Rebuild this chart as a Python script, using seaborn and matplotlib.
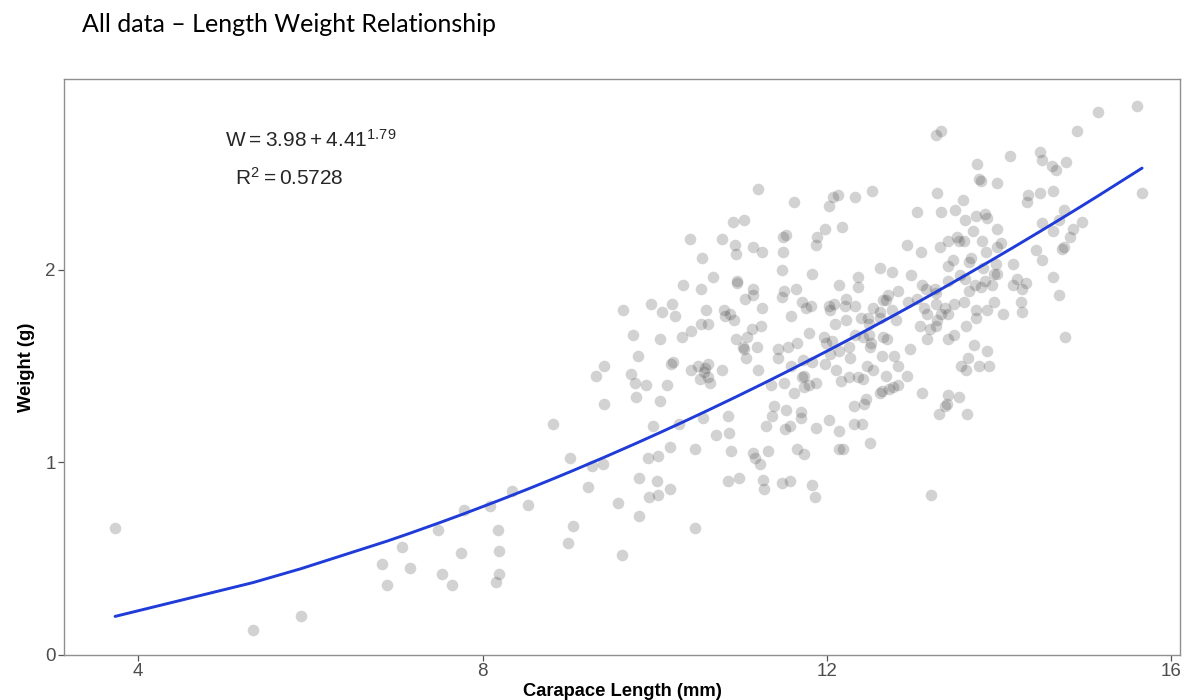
import numpy as np
import pandas as pd
import matplotlib
matplotlib.use("Agg")
import matplotlib.pyplot as plt
import seaborn as sns

# Carapace length (mm) and body weight (g) of each individual
length_mm = [
    3.73, 5.33, 5.89, 6.83, 6.89, 7.06, 7.16, 7.48, 7.53, 7.64, 7.75, 7.78,
    8.09, 8.18, 8.19, 8.19, 8.15,
    8.34, 8.53, 8.82, 8.99, 9.05, 9.02, 9.22, 9.27, 9.40, 9.41, 9.57, 9.62,
    9.82, 9.82, 9.92, 9.93, 9.98, 10.02, 10.04, 10.04, 10.18, 10.18, 10.28,
    10.47, 10.47, 10.56, 10.71, 10.85, 10.86, 10.85, 10.88, 10.98, 11.14,
    11.16, 11.22, 11.26, 11.27, 11.29, 11.32, 11.35, 11.36, 11.38, 11.48,
    11.50, 11.51, 11.52, 11.57, 11.57, 11.62, 11.65, 11.70, 11.70, 11.73,
    11.73, 11.79, 11.83, 11.86, 11.87, 11.87, 9.77, 9.90, 9.78, 10.06, 10.14,
    10.64, 11.71,
    11.20, 11.62, 10.91, 11.04, 10.41, 10.78, 10.93, 10.94, 11.14, 11.24,
    11.49, 11.52, 11.49, 11.88, 11.87, 10.55, 10.68, 10.33, 10.54, 10.95,
    10.96, 11.48, 11.83, 11.50, 11.48, 11.64, 11.14, 11.14, 11.05, 11.71,
    11.76, 11.81, 9.63, 9.95, 10.08, 10.20, 10.24, 10.59, 10.80, 10.81, 10.87,
    10.92, 11.25, 11.58, 10.54, 10.62, 11.23, 11.13, 11.07, 10.94, 11.79,
    9.75, 10.06, 10.32, 10.42, 11.03, 11.04, 11.19, 11.43, 11.55, 11.65,
    11.06, 11.43, 11.72, 11.83, 9.80, 9.41, 9.32, 9.72, 10.19, 10.21, 10.42,
    10.50, 10.58, 10.62, 10.57, 10.78, 11.20, 11.58, 11.73, 10.52, 10.62,
    15.60, 15.15, 14.90, 13.27, 13.32, 14.13, 14.48, 14.50, 14.61, 14.66,
    14.78, 15.66, 13.74, 13.76, 13.79, 13.98, 12.07, 12.13, 12.02, 12.32,
    12.52, 13.28, 14.33, 14.32, 14.47, 14.63, 11.98, 12.18, 13.05, 13.32,
    13.49, 13.58, 13.60, 13.73, 13.83, 13.86, 13.98, 13.70, 13.80, 14.75,
    14.69, 14.50, 14.62, 14.86, 14.96, 14.82, 14.73, 14.75, 14.43, 14.50,
    14.16, 14.62, 14.69, 14.77, 12.93, 13.09, 13.31, 13.40, 13.51, 13.53,
    13.59, 14.02, 13.97, 13.85, 13.67, 13.65, 13.96, 13.46, 13.41, 13.81,
    12.61, 12.75, 12.36, 12.36, 12.14, 12.97, 13.10, 13.15, 13.26, 13.27,
    13.41, 13.54, 13.60, 13.65, 13.72, 13.79, 13.84, 13.92, 13.94, 13.98,
    14.16, 14.21, 14.26, 14.31, 12.82, 12.71, 12.69, 12.94, 13.05, 12.02,
    12.08, 12.04, 12.22, 12.21, 12.33, 12.53, 12.61, 12.65, 12.76, 12.22,
    12.09, 12.39, 12.48, 12.49, 12.62, 12.80, 13.13, 13.16, 13.27, 13.32,
    13.37, 13.41, 13.47, 13.59, 13.73, 13.73, 13.86, 13.94, 14.04, 14.25,
    14.27, 13.08, 13.20, 13.27, 13.28, 13.62, 11.97, 12.06, 11.99, 12.03,
    12.14, 12.26, 12.27, 12.32, 12.42, 12.49, 12.51, 12.50, 12.65, 12.70,
    12.64, 12.78, 12.82, 12.96, 13.16, 13.41, 13.48, 13.71, 13.86, 13.64,
    13.56, 13.62, 13.77, 13.88, 12.11, 11.98, 12.47, 12.53, 12.68, 12.93,
    12.26, 12.36, 12.42, 12.16, 12.61, 12.64, 12.72, 12.77, 12.82, 13.10,
    13.41, 13.53, 13.39, 13.37, 13.30, 13.63, 12.45, 12.43, 12.31, 12.02,
    12.14, 12.31, 12.41, 12.50, 12.14, 12.19, 13.21,
]
weight_g = [
    0.66, 0.13, 0.20, 0.47, 0.36, 0.56, 0.45, 0.65, 0.42, 0.36, 0.53, 0.75,
    0.77, 0.65, 0.54, 0.42, 0.38,
    0.85, 0.78, 1.20, 0.58, 0.67, 1.02, 0.87, 0.98, 0.99, 1.30, 0.79, 0.52,
    0.72, 0.92, 1.02, 0.82, 1.19, 0.90, 1.03, 0.83, 1.08, 0.86, 1.20,
    0.66, 1.07, 1.23, 1.14, 1.24, 1.15, 0.90, 1.06, 0.92, 1.05,
    1.02, 0.99, 0.91, 0.86, 1.19, 1.06, 1.40, 1.24, 1.29, 0.89,
    1.41, 1.17, 1.27, 1.19, 0.90, 1.36, 1.07, 1.23, 1.26, 1.39,
    1.04, 1.40, 0.88, 0.82, 1.41, 1.18, 1.41, 1.40, 1.34, 1.32, 1.40,
    1.41, 1.44,
    2.42, 2.35, 2.25, 2.26, 2.16, 2.16, 2.13, 2.08, 2.12, 2.09,
    2.17, 2.18, 2.09, 2.17, 2.13, 2.06, 1.96, 1.92, 1.90, 1.94,
    1.93, 2.00, 1.98, 1.89, 1.86, 1.90, 1.90, 1.87, 1.85, 1.83,
    1.80, 1.81, 1.79, 1.82, 1.78, 1.82, 1.76, 1.79, 1.79, 1.76, 1.77,
    1.74, 1.80, 1.76, 1.72, 1.72, 1.71, 1.69, 1.65, 1.64, 1.67,
    1.66, 1.64, 1.65, 1.68, 1.60, 1.59, 1.60, 1.59, 1.60, 1.62,
    1.54, 1.54, 1.53, 1.52, 1.55, 1.50, 1.45, 1.46, 1.51, 1.52, 1.48,
    1.50, 1.49, 1.51, 1.47, 1.48, 1.48, 1.50, 1.45, 1.43, 1.44,
    2.85, 2.82, 2.72, 2.70, 2.72, 2.59, 2.61, 2.57, 2.54, 2.52,
    2.56, 2.40, 2.55, 2.47, 2.46, 2.45, 2.38, 2.39, 2.33, 2.38,
    2.41, 2.40, 2.39, 2.35, 2.40, 2.41, 2.21, 2.22, 2.30, 2.30,
    2.31, 2.36, 2.26, 2.28, 2.29, 2.27, 2.21, 2.20, 2.15, 2.31,
    2.26, 2.24, 2.20, 2.21, 2.25, 2.17, 2.11, 2.12, 2.10, 2.05,
    2.03, 1.96, 1.87, 1.65, 2.13, 2.09, 2.12, 2.15, 2.17, 2.15,
    2.15, 2.14, 2.12, 2.09, 2.06, 2.04, 2.03, 2.05, 2.02, 2.01,
    2.01, 1.99, 1.96, 1.91, 1.92, 1.97, 1.92, 1.90, 1.90, 1.88,
    1.94, 1.97, 1.95, 1.89, 1.92, 1.91, 1.94, 1.92, 1.98, 1.98,
    1.92, 1.95, 1.90, 1.93, 1.89, 1.87, 1.84, 1.83, 1.85, 1.81,
    1.82, 1.79, 1.85, 1.81, 1.81, 1.80, 1.78, 1.84, 1.79, 1.74,
    1.72, 1.75, 1.75, 1.72, 1.75, 1.74, 1.80, 1.77, 1.82, 1.77,
    1.80, 1.77, 1.82, 1.83, 1.79, 1.75, 1.79, 1.83, 1.77, 1.83,
    1.78, 1.71, 1.69, 1.71, 1.74, 1.71, 1.65, 1.63, 1.62, 1.56,
    1.58, 1.60, 1.54, 1.66, 1.65, 1.66, 1.62, 1.60, 1.65, 1.64,
    1.55, 1.55, 1.50, 1.59, 1.64, 1.64, 1.66, 1.61, 1.58, 1.54,
    1.50, 1.48, 1.50, 1.50, 1.48, 1.51, 1.50, 1.48, 1.45, 1.45,
    1.44, 1.44, 1.43, 1.42, 1.36, 1.37, 1.38, 1.39, 1.40, 1.36,
    1.35, 1.34, 1.30, 1.29, 1.25, 1.25, 1.33, 1.30, 1.29, 1.22,
    1.16, 1.20, 1.20, 1.10, 1.07, 1.07, 0.83,
]

# Power-law fit W = a * L^b
fit_a = 0.0193
fit_b = 1.772

equation_text = r"$\mathregular{W = 3.98 + 4.41^{1.79}}$"
r2_text = r"$\mathregular{R^{2} = 0.5728}$"
title_text = "All data \u2013 Length Weight Relationship"
x_ticks = [4, 8, 12, 16]
y_ticks = [0, 1, 2]

df = pd.DataFrame({"length": length_mm, "weight": weight_g})
fit = pd.DataFrame({"length": np.sort(np.unique(df["length"]))})
fit["weight"] = fit_a * fit["length"] ** fit_b

sns.set_style("white")
plt.rcParams["font.family"] = ["Liberation Sans", "DejaVu Sans"]

fig = plt.figure(figsize=(11.92, 7.0), dpi=100)
ax = fig.add_axes([0.0537, 0.0647, 0.9362, 0.8223])

sns.scatterplot(data=df, x="length", y="weight", ax=ax, s=70,
                color="#333333", alpha=0.22, linewidth=0, zorder=2)
sns.lineplot(data=fit, x="length", y="weight", ax=ax, color="#1f3bd8",
             linewidth=2.1, sort=True, estimator=None, zorder=3)

ax.set_xlim(3.137, 16.10)
ax.set_ylim(0.0, 2.99)
ax.set_xticks(x_ticks)
ax.set_yticks(y_ticks)
ax.set_xticklabels([str(t) for t in x_ticks])
ax.set_yticklabels([str(t) for t in y_ticks])
ax.tick_params(axis="both", which="major", direction="out", length=4,
               width=0.9, color="#555555", labelsize=13.5, labelcolor="#4d4d4d",
               pad=2, bottom=True, left=True)
for side in ["left", "bottom", "top", "right"]:
    ax.spines[side].set_visible(True)
    ax.spines[side].set_color("#8f8f8f")
    ax.spines[side].set_linewidth(1.0)

ax.set_xlabel("Carapace Length (mm)", fontsize=13.2, fontweight="bold",
              color="black", labelpad=2)
ax.set_ylabel("Weight (g)", fontsize=13.2, fontweight="bold",
              color="black", labelpad=7)

ax.text(5.01, 2.64, equation_text, fontsize=15, ha="left", va="baseline")
ax.text(5.12, 2.44, r2_text, fontsize=15, ha="left", va="baseline")

fig.text(0.0688, 0.955, title_text, fontsize=18, family=["Lato", "DejaVu Sans"],
         ha="left", va="baseline", color="black")

fig.savefig("out.png", dpi=100)
